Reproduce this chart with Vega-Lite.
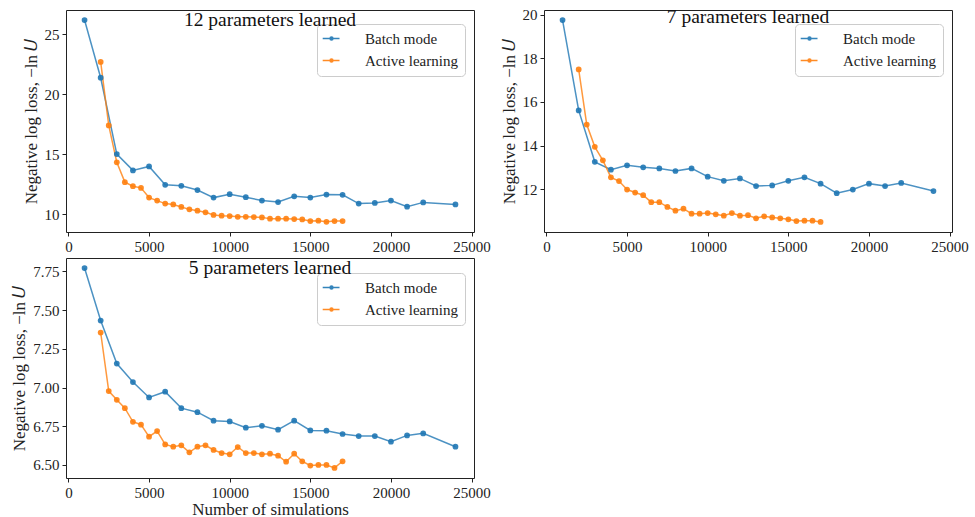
{
  "$schema": "https://vega.github.io/schema/vega-lite/v6.json",
  "padding": {"left": 10, "top": 6, "right": 5, "bottom": 0},
  "background": "white",
  "config": {
    "font": "Liberation Serif",
    "view": {"stroke": "#222", "strokeWidth": 1},
    "axis": {"grid": false, "domain": false, "tickColor": "#222", "tickSize": 4, "labelFont": "Liberation Serif", "labelFontSize": 15, "labelColor": "#222", "titleFont": "Liberation Serif", "titleFontSize": 17, "titleFontWeight": "normal", "titleColor": "#222", "labelPadding": 3, "titlePadding": 4},
    "legend": {"labelFont": "Liberation Serif", "labelFontSize": 15, "labelColor": "#222", "strokeColor": "#cccccc", "fillColor": "white", "cornerRadius": 4, "padding": 7, "rowPadding": 6, "symbolSize": 64, "symbolStrokeWidth": 1.5, "labelOffset": 26, "orient": "none", "legendX": 251, "legendY": 14},
    "title": {"font": "Liberation Serif", "fontSize": 19.5, "fontWeight": "normal", "color": "#111", "anchor": "middle", "offset": -20}
  },
  "datasets": {
    "p12": [
      {"n": 1000, "loss": 26.18, "method": "Batch mode"},
      {"n": 2000, "loss": 21.37, "method": "Batch mode"},
      {"n": 3000, "loss": 15.0, "method": "Batch mode"},
      {"n": 4000, "loss": 13.64, "method": "Batch mode"},
      {"n": 5000, "loss": 13.97, "method": "Batch mode"},
      {"n": 6000, "loss": 12.44, "method": "Batch mode"},
      {"n": 7000, "loss": 12.35, "method": "Batch mode"},
      {"n": 8000, "loss": 12.0, "method": "Batch mode"},
      {"n": 9000, "loss": 11.37, "method": "Batch mode"},
      {"n": 10000, "loss": 11.65, "method": "Batch mode"},
      {"n": 11000, "loss": 11.4, "method": "Batch mode"},
      {"n": 12000, "loss": 11.12, "method": "Batch mode"},
      {"n": 13000, "loss": 11.0, "method": "Batch mode"},
      {"n": 14000, "loss": 11.48, "method": "Batch mode"},
      {"n": 15000, "loss": 11.37, "method": "Batch mode"},
      {"n": 16000, "loss": 11.62, "method": "Batch mode"},
      {"n": 17000, "loss": 11.6, "method": "Batch mode"},
      {"n": 18000, "loss": 10.87, "method": "Batch mode"},
      {"n": 19000, "loss": 10.92, "method": "Batch mode"},
      {"n": 20000, "loss": 11.12, "method": "Batch mode"},
      {"n": 21000, "loss": 10.61, "method": "Batch mode"},
      {"n": 22000, "loss": 10.97, "method": "Batch mode"},
      {"n": 24000, "loss": 10.8, "method": "Batch mode"},
      {"n": 2000, "loss": 22.69, "method": "Active learning"},
      {"n": 2500, "loss": 17.39, "method": "Active learning"},
      {"n": 3000, "loss": 14.31, "method": "Active learning"},
      {"n": 3500, "loss": 12.66, "method": "Active learning"},
      {"n": 4000, "loss": 12.32, "method": "Active learning"},
      {"n": 4500, "loss": 12.18, "method": "Active learning"},
      {"n": 5000, "loss": 11.37, "method": "Active learning"},
      {"n": 5500, "loss": 11.12, "method": "Active learning"},
      {"n": 6000, "loss": 10.87, "method": "Active learning"},
      {"n": 6500, "loss": 10.8, "method": "Active learning"},
      {"n": 7000, "loss": 10.59, "method": "Active learning"},
      {"n": 7500, "loss": 10.39, "method": "Active learning"},
      {"n": 8000, "loss": 10.28, "method": "Active learning"},
      {"n": 8500, "loss": 10.14, "method": "Active learning"},
      {"n": 9000, "loss": 9.92, "method": "Active learning"},
      {"n": 9500, "loss": 9.86, "method": "Active learning"},
      {"n": 10000, "loss": 9.83, "method": "Active learning"},
      {"n": 10500, "loss": 9.77, "method": "Active learning"},
      {"n": 11000, "loss": 9.77, "method": "Active learning"},
      {"n": 11500, "loss": 9.75, "method": "Active learning"},
      {"n": 12000, "loss": 9.72, "method": "Active learning"},
      {"n": 12500, "loss": 9.61, "method": "Active learning"},
      {"n": 13000, "loss": 9.61, "method": "Active learning"},
      {"n": 13500, "loss": 9.61, "method": "Active learning"},
      {"n": 14000, "loss": 9.58, "method": "Active learning"},
      {"n": 14500, "loss": 9.55, "method": "Active learning"},
      {"n": 15000, "loss": 9.41, "method": "Active learning"},
      {"n": 15500, "loss": 9.44, "method": "Active learning"},
      {"n": 16000, "loss": 9.35, "method": "Active learning"},
      {"n": 16500, "loss": 9.41, "method": "Active learning"},
      {"n": 17000, "loss": 9.41, "method": "Active learning"}
    ],
    "p7": [
      {"n": 1000, "loss": 19.76, "method": "Batch mode"},
      {"n": 2000, "loss": 15.61, "method": "Batch mode"},
      {"n": 3000, "loss": 13.25, "method": "Batch mode"},
      {"n": 4000, "loss": 12.89, "method": "Batch mode"},
      {"n": 5000, "loss": 13.09, "method": "Batch mode"},
      {"n": 6000, "loss": 13.0, "method": "Batch mode"},
      {"n": 7000, "loss": 12.95, "method": "Batch mode"},
      {"n": 8000, "loss": 12.83, "method": "Batch mode"},
      {"n": 9000, "loss": 12.95, "method": "Batch mode"},
      {"n": 10000, "loss": 12.57, "method": "Batch mode"},
      {"n": 11000, "loss": 12.38, "method": "Batch mode"},
      {"n": 12000, "loss": 12.49, "method": "Batch mode"},
      {"n": 13000, "loss": 12.14, "method": "Batch mode"},
      {"n": 14000, "loss": 12.17, "method": "Batch mode"},
      {"n": 15000, "loss": 12.38, "method": "Batch mode"},
      {"n": 16000, "loss": 12.54, "method": "Batch mode"},
      {"n": 17000, "loss": 12.25, "method": "Batch mode"},
      {"n": 18000, "loss": 11.81, "method": "Batch mode"},
      {"n": 19000, "loss": 11.98, "method": "Batch mode"},
      {"n": 20000, "loss": 12.25, "method": "Batch mode"},
      {"n": 21000, "loss": 12.14, "method": "Batch mode"},
      {"n": 22000, "loss": 12.28, "method": "Batch mode"},
      {"n": 24000, "loss": 11.91, "method": "Batch mode"},
      {"n": 2000, "loss": 17.49, "method": "Active learning"},
      {"n": 2500, "loss": 14.96, "method": "Active learning"},
      {"n": 3000, "loss": 13.94, "method": "Active learning"},
      {"n": 3500, "loss": 13.32, "method": "Active learning"},
      {"n": 4000, "loss": 12.54, "method": "Active learning"},
      {"n": 4500, "loss": 12.37, "method": "Active learning"},
      {"n": 5000, "loss": 11.98, "method": "Active learning"},
      {"n": 5500, "loss": 11.84, "method": "Active learning"},
      {"n": 6000, "loss": 11.72, "method": "Active learning"},
      {"n": 6500, "loss": 11.4, "method": "Active learning"},
      {"n": 7000, "loss": 11.4, "method": "Active learning"},
      {"n": 7500, "loss": 11.18, "method": "Active learning"},
      {"n": 8000, "loss": 11.01, "method": "Active learning"},
      {"n": 8500, "loss": 11.1, "method": "Active learning"},
      {"n": 9000, "loss": 10.87, "method": "Active learning"},
      {"n": 9500, "loss": 10.87, "method": "Active learning"},
      {"n": 10000, "loss": 10.9, "method": "Active learning"},
      {"n": 10500, "loss": 10.84, "method": "Active learning"},
      {"n": 11000, "loss": 10.78, "method": "Active learning"},
      {"n": 11500, "loss": 10.9, "method": "Active learning"},
      {"n": 12000, "loss": 10.78, "method": "Active learning"},
      {"n": 12500, "loss": 10.8, "method": "Active learning"},
      {"n": 13000, "loss": 10.66, "method": "Active learning"},
      {"n": 13500, "loss": 10.75, "method": "Active learning"},
      {"n": 14000, "loss": 10.7, "method": "Active learning"},
      {"n": 14500, "loss": 10.66, "method": "Active learning"},
      {"n": 15000, "loss": 10.61, "method": "Active learning"},
      {"n": 15500, "loss": 10.53, "method": "Active learning"},
      {"n": 16000, "loss": 10.55, "method": "Active learning"},
      {"n": 16500, "loss": 10.55, "method": "Active learning"},
      {"n": 17000, "loss": 10.49, "method": "Active learning"}
    ],
    "p5": [
      {"n": 1000, "loss": 7.771, "method": "Batch mode"},
      {"n": 2000, "loss": 7.432, "method": "Batch mode"},
      {"n": 3000, "loss": 7.155, "method": "Batch mode"},
      {"n": 4000, "loss": 7.035, "method": "Batch mode"},
      {"n": 5000, "loss": 6.936, "method": "Batch mode"},
      {"n": 6000, "loss": 6.973, "method": "Batch mode"},
      {"n": 7000, "loss": 6.867, "method": "Batch mode"},
      {"n": 8000, "loss": 6.841, "method": "Batch mode"},
      {"n": 9000, "loss": 6.786, "method": "Batch mode"},
      {"n": 10000, "loss": 6.781, "method": "Batch mode"},
      {"n": 11000, "loss": 6.741, "method": "Batch mode"},
      {"n": 12000, "loss": 6.753, "method": "Batch mode"},
      {"n": 13000, "loss": 6.728, "method": "Batch mode"},
      {"n": 14000, "loss": 6.786, "method": "Batch mode"},
      {"n": 15000, "loss": 6.723, "method": "Batch mode"},
      {"n": 16000, "loss": 6.721, "method": "Batch mode"},
      {"n": 17000, "loss": 6.7, "method": "Batch mode"},
      {"n": 18000, "loss": 6.687, "method": "Batch mode"},
      {"n": 19000, "loss": 6.687, "method": "Batch mode"},
      {"n": 20000, "loss": 6.65, "method": "Batch mode"},
      {"n": 21000, "loss": 6.691, "method": "Batch mode"},
      {"n": 22000, "loss": 6.704, "method": "Batch mode"},
      {"n": 24000, "loss": 6.618, "method": "Batch mode"},
      {"n": 2000, "loss": 7.355, "method": "Active learning"},
      {"n": 2500, "loss": 6.977, "method": "Active learning"},
      {"n": 3000, "loss": 6.921, "method": "Active learning"},
      {"n": 3500, "loss": 6.867, "method": "Active learning"},
      {"n": 4000, "loss": 6.779, "method": "Active learning"},
      {"n": 4500, "loss": 6.76, "method": "Active learning"},
      {"n": 5000, "loss": 6.683, "method": "Active learning"},
      {"n": 5500, "loss": 6.719, "method": "Active learning"},
      {"n": 6000, "loss": 6.633, "method": "Active learning"},
      {"n": 6500, "loss": 6.618, "method": "Active learning"},
      {"n": 7000, "loss": 6.627, "method": "Active learning"},
      {"n": 7500, "loss": 6.582, "method": "Active learning"},
      {"n": 8000, "loss": 6.618, "method": "Active learning"},
      {"n": 8500, "loss": 6.627, "method": "Active learning"},
      {"n": 9000, "loss": 6.597, "method": "Active learning"},
      {"n": 9500, "loss": 6.577, "method": "Active learning"},
      {"n": 10000, "loss": 6.569, "method": "Active learning"},
      {"n": 10500, "loss": 6.616, "method": "Active learning"},
      {"n": 11000, "loss": 6.577, "method": "Active learning"},
      {"n": 11500, "loss": 6.577, "method": "Active learning"},
      {"n": 12000, "loss": 6.569, "method": "Active learning"},
      {"n": 12500, "loss": 6.573, "method": "Active learning"},
      {"n": 13000, "loss": 6.56, "method": "Active learning"},
      {"n": 13500, "loss": 6.521, "method": "Active learning"},
      {"n": 14000, "loss": 6.573, "method": "Active learning"},
      {"n": 14500, "loss": 6.524, "method": "Active learning"},
      {"n": 15000, "loss": 6.496, "method": "Active learning"},
      {"n": 15500, "loss": 6.5, "method": "Active learning"},
      {"n": 16000, "loss": 6.5, "method": "Active learning"},
      {"n": 16500, "loss": 6.481, "method": "Active learning"},
      {"n": 17000, "loss": 6.524, "method": "Active learning"}
    ]
  },
  "vconcat": [
    {
      "hconcat": [
        {
          "width": 408, "height": 222,
          "title": "12 parameters learned",
          "data": {"name": "p12"},
          "mark": {"type": "line", "strokeWidth": 1.5, "strokeOpacity": 0.8, "point": {"filled": true, "size": 33, "opacity": 0.9}},
          "encoding": {
            "x": {"field": "n", "type": "quantitative", "scale": {"domain": [-150, 25150], "nice": false, "zero": false}, "axis": {"values": [0, 5000, 10000, 15000, 20000, 25000], "format": "d", "title": null, "labelFont": "Liberation Serif"}},
            "y": {"field": "loss", "type": "quantitative", "scale": {"domain": [8.5, 27.02], "nice": false, "zero": false}, "axis": {"values": [10, 15, 20, 25], "title": "Negative log loss, −ln 𝑈", "labelFont": "Liberation Serif"}},
            "color": {"field": "method", "type": "nominal", "scale": {"domain": ["Batch mode", "Active learning"], "range": ["#1f77b4", "#ff7f0e"]}, "legend": {"title": null, "labelFont": "Liberation Serif", "symbolType": "M-2.2,0H2M-0.36,0A0.36,0.36,0,1,1,0.36,0A0.36,0.36,0,1,1,-0.36,0Z"}}
          }
        },
        {
          "width": 408, "height": 222,
          "title": "7 parameters learned",
          "data": {"name": "p7"},
          "mark": {"type": "line", "strokeWidth": 1.5, "strokeOpacity": 0.8, "point": {"filled": true, "size": 33, "opacity": 0.9}},
          "encoding": {
            "x": {"field": "n", "type": "quantitative", "scale": {"domain": [-150, 25150], "nice": false, "zero": false}, "axis": {"values": [0, 5000, 10000, 15000, 20000, 25000], "format": "d", "title": null, "labelFont": "Liberation Serif"}},
            "y": {"field": "loss", "type": "quantitative", "scale": {"domain": [10.03, 20.22], "nice": false, "zero": false}, "axis": {"values": [12, 14, 16, 18, 20], "title": "Negative log loss, −ln 𝑈", "labelFont": "Liberation Serif"}},
            "color": {"field": "method", "type": "nominal", "scale": {"domain": ["Batch mode", "Active learning"], "range": ["#1f77b4", "#ff7f0e"]}, "legend": {"title": null, "labelFont": "Liberation Serif", "symbolType": "M-2.2,0H2M-0.36,0A0.36,0.36,0,1,1,0.36,0A0.36,0.36,0,1,1,-0.36,0Z"}}
          }
        }
      ],
      "spacing": 8,
      "resolve": {"legend": {"color": "independent"}}
    },
    {
      "width": 408, "height": 220,
      "title": "5 parameters learned",
      "data": {"name": "p5"},
      "mark": {"type": "line", "strokeWidth": 1.5, "strokeOpacity": 0.8, "point": {"filled": true, "size": 33, "opacity": 0.9}},
      "encoding": {
        "x": {"field": "n", "type": "quantitative", "scale": {"domain": [-150, 25150], "nice": false, "zero": false}, "axis": {"values": [0, 5000, 10000, 15000, 20000, 25000], "format": "d", "title": "Number of simulations", "titlePadding": 1, "labelFont": "Liberation Serif"}},
        "y": {"field": "loss", "type": "quantitative", "scale": {"domain": [6.416, 7.836], "nice": false, "zero": false}, "axis": {"values": [6.5, 6.75, 7.0, 7.25, 7.5, 7.75], "format": ".2f", "title": "Negative log loss, −ln 𝑈", "labelFont": "Liberation Serif"}},
        "color": {"field": "method", "type": "nominal", "scale": {"domain": ["Batch mode", "Active learning"], "range": ["#1f77b4", "#ff7f0e"]}, "legend": {"title": null, "labelFont": "Liberation Serif", "legendY": 15, "symbolType": "M-2.2,0H2M-0.36,0A0.36,0.36,0,1,1,0.36,0A0.36,0.36,0,1,1,-0.36,0Z"}}
      }
    }
  ],
  "spacing": 2,
  "resolve": {"legend": {"color": "independent"}}
}
